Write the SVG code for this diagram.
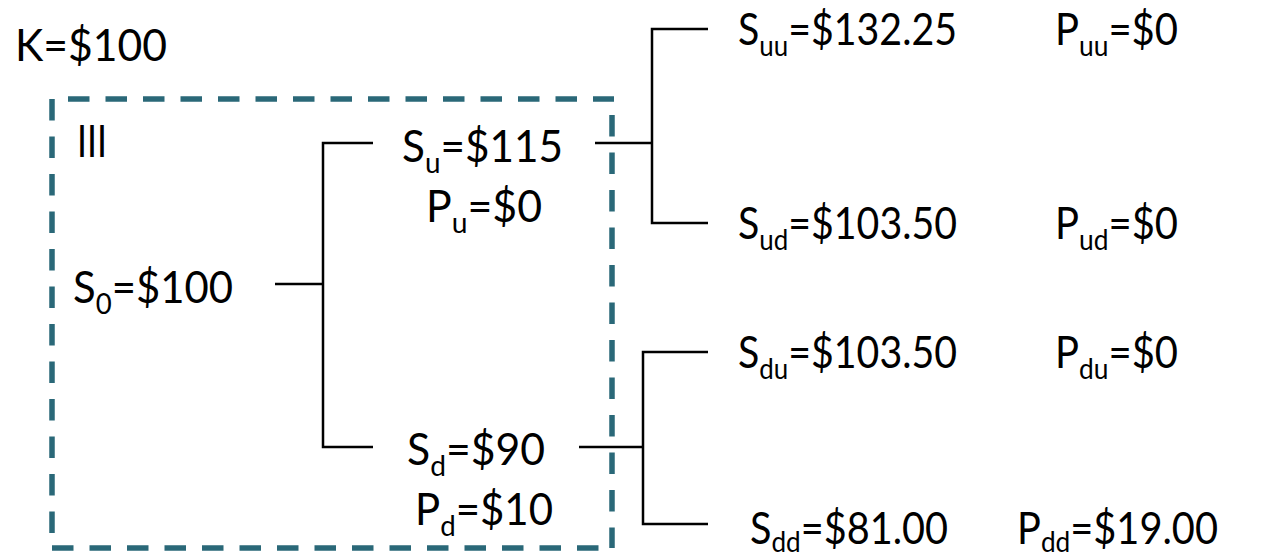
<svg xmlns="http://www.w3.org/2000/svg" width="1261" height="557" viewBox="0 0 1261 557">
<style>
text{font-family:"Lato","Liberation Sans",sans-serif;font-size:44px;fill:#000}
.sub{font-size:29px}
.c{stroke:#000;stroke-width:2.5;fill:none}
.d{stroke:#2a6878;stroke-width:5.5;fill:none;stroke-dasharray:21.5 16}
</style>
<rect width="1261" height="557" fill="#fff"/>
<g id="frame">
<line class="d" x1="68" y1="99" x2="614" y2="99"/>
<line class="d" x1="52" y1="99" x2="52" y2="548"/>
<line class="d" x1="52" y1="548" x2="612" y2="548"/>
<line class="d" x1="612" y1="115" x2="612" y2="548"/>
</g>
<g id="connectors">
<path class="c" d="M275 284H323M373 143H323V447H373"/>
<path class="c" d="M595 143H652M708 29H652V223H708"/>
<path class="c" d="M579 447H643M708 352H643V524H708"/>
</g>
<g id="strike"><text x="15" y="61" textLength="152" lengthAdjust="spacingAndGlyphs">K=$100</text></g>
<g id="label-III"><text x="77" y="157" textLength="30" lengthAdjust="spacingAndGlyphs">III</text></g>
<g id="s0"><text x="73" y="303" textLength="160" lengthAdjust="spacingAndGlyphs">S<tspan class="sub" dy="11">0</tspan><tspan dy="-11">=$100</tspan></text></g>
<g id="su">
<text x="402" y="162" textLength="161" lengthAdjust="spacingAndGlyphs">S<tspan class="sub" dy="11">u</tspan><tspan dy="-11">=$115</tspan></text>
<text x="426" y="222" textLength="116" lengthAdjust="spacingAndGlyphs">P<tspan class="sub" dy="11">u</tspan><tspan dy="-11">=$0</tspan></text>
</g>
<g id="sd">
<text x="407" y="465" textLength="138" lengthAdjust="spacingAndGlyphs">S<tspan class="sub" dy="11">d</tspan><tspan dy="-11">=$90</tspan></text>
<text x="415" y="525" textLength="138" lengthAdjust="spacingAndGlyphs">P<tspan class="sub" dy="11">d</tspan><tspan dy="-11">=$10</tspan></text>
</g>
<g id="suu">
<text x="738" y="45" textLength="219" lengthAdjust="spacingAndGlyphs">S<tspan class="sub" dy="11">uu</tspan><tspan dy="-11">=$132.25</tspan></text>
<text x="1055" y="45" textLength="123" lengthAdjust="spacingAndGlyphs">P<tspan class="sub" dy="11">uu</tspan><tspan dy="-11">=$0</tspan></text>
</g>
<g id="sud">
<text x="738" y="239" textLength="219" lengthAdjust="spacingAndGlyphs">S<tspan class="sub" dy="11">ud</tspan><tspan dy="-11">=$103.50</tspan></text>
<text x="1055" y="239" textLength="123" lengthAdjust="spacingAndGlyphs">P<tspan class="sub" dy="11">ud</tspan><tspan dy="-11">=$0</tspan></text>
</g>
<g id="sdu">
<text x="738" y="368" textLength="219" lengthAdjust="spacingAndGlyphs">S<tspan class="sub" dy="11">du</tspan><tspan dy="-11">=$103.50</tspan></text>
<text x="1055" y="368" textLength="123" lengthAdjust="spacingAndGlyphs">P<tspan class="sub" dy="11">du</tspan><tspan dy="-11">=$0</tspan></text>
</g>
<g id="sdd">
<text x="750" y="544" textLength="198" lengthAdjust="spacingAndGlyphs">S<tspan class="sub" dy="8">dd</tspan><tspan dy="-8">=$81.00</tspan></text>
<text x="1017" y="544" textLength="201" lengthAdjust="spacingAndGlyphs">P<tspan class="sub" dy="8">dd</tspan><tspan dy="-8">=$19.00</tspan></text>
</g>
</svg>
